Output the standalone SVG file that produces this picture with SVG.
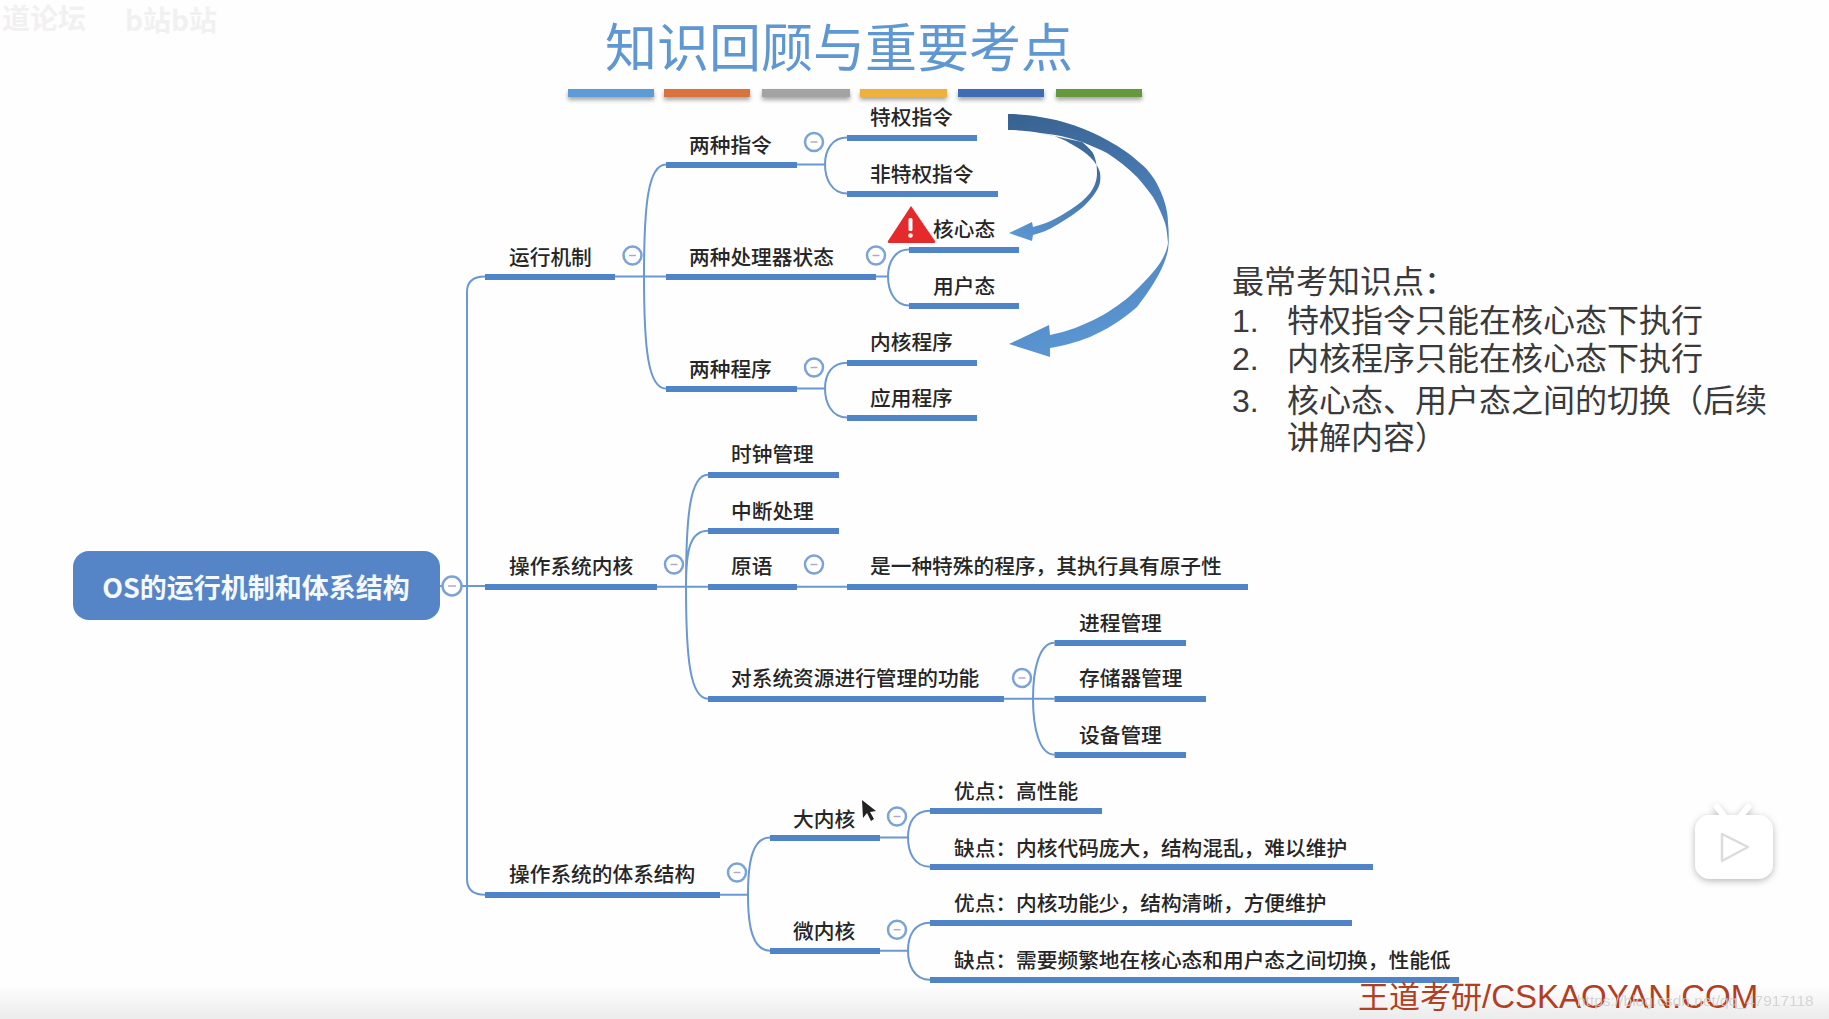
<svg xmlns="http://www.w3.org/2000/svg" width="1829" height="1019" viewBox="0 0 1829 1019">
<style>
text{font-family:"Noto Sans CJK SC","Noto Sans",sans-serif}
.t{font-size:20.7px;font-weight:500;fill:#262626}
.u{fill:#4f84c8;height:6px}
.c{fill:none;stroke:#6a98d2;stroke-width:2}
.o{fill:#fff;stroke:#7ba3d6;stroke-width:2.5}
.d{stroke:#b0a8c8;stroke-width:1.5}
.p{font-size:32px;fill:#3a3a3a}
.n{font-family:"Liberation Sans",Arial,sans-serif}
.w{font-size:28px;font-weight:700;fill:#f1f1f1}
</style>
<defs>
<linearGradient id="bottomFade" x1="0" y1="0" x2="0" y2="1"><stop offset="0" stop-color="#fefefe"/><stop offset="1" stop-color="#ebebeb"/></linearGradient>
<linearGradient id="arrowBig" gradientUnits="userSpaceOnUse" x1="1010" y1="114" x2="1080" y2="350"><stop offset="0" stop-color="#38618f"/><stop offset="0.45" stop-color="#4a7cb5"/><stop offset="1" stop-color="#5a97d3"/></linearGradient>
<linearGradient id="arrowSmall" gradientUnits="userSpaceOnUse" x1="1085" y1="143" x2="1020" y2="240"><stop offset="0" stop-color="#3d6899"/><stop offset="1" stop-color="#5a97d3"/></linearGradient>
<filter id="barShadow" x="-5%" y="-50%" width="110%" height="250%"><feDropShadow dx="0" dy="3" stdDeviation="2" flood-color="#000" flood-opacity="0.35"/></filter>
<filter id="tvShadow" x="-20%" y="-20%" width="140%" height="140%"><feDropShadow dx="0" dy="2" stdDeviation="3.500" flood-color="#000" flood-opacity="0.28"/></filter>
</defs>
<rect width="1829" height="1019" fill="#fefefe"/>
<rect y="985" width="1829" height="34" fill="url(#bottomFade)"/>
<g id="corner-watermark"><text class="w" x="2" y="29">道论坛</text><text class="w" x="125" y="31">b站b站</text></g>
<g id="title"><text x="839" y="67" text-anchor="middle" font-size="52" fill="#5f97d2">知识回顾与重要考点</text></g>
<g id="color-bars" filter="url(#barShadow)">
<rect x="568" y="89" width="86" height="8" fill="#5b9bd5"/>
<rect x="664" y="89" width="86" height="8" fill="#d9733c"/>
<rect x="762" y="89" width="88" height="8" fill="#a3a3a3"/>
<rect x="860" y="89" width="87" height="8" fill="#eeb13a"/>
<rect x="958" y="89" width="86" height="8" fill="#3f6cb4"/>
<rect x="1056" y="89" width="86" height="8" fill="#65983e"/>
</g>
<g id="connectors">
<path class="c" d="M440,586H485M467,586V292Q467,276.5 485,276.5M467,586V879Q467,894.7 485,894.7"/>
<path class="c" d="M615,276.5H666M644,276.5C644,205 648,164.5 666,164.5M644,276.5C644,348 648,388.5 666,388.5"/>
<path class="c" d="M797,164.5H825M825,164.5C825,150 832,137.6 847,137.6M825,164.5C825,179 832,193.6 847,193.6"/>
<path class="c" d="M876,276.5H888M888,276.5C888,262 895,249.6 909,249.6M888,276.5C888,291 895,305.6 909,305.6"/>
<path class="c" d="M797,388.5H825M825,388.5C825,374 832,362.8 847,362.8M825,388.5C825,403 832,417.6 847,417.6"/>
<path class="c" d="M657,586.7H708M686,586.7C686,515 690,474.7 708,474.7M686,586.7C686,550 690,530.7 708,530.7M686,586.7C686,658 690,698.7 708,698.7"/>
<path class="c" d="M797,586.7H847"/>
<path class="c" d="M1004,698.7H1054.5M1033,698.7C1033,670 1039,642.7 1054.5,642.7M1033,698.7C1033,727 1039,754.7 1054.5,754.7"/>
<path class="c" d="M720,894.7H748M748,894.7C748,860 753,837.5 770,837.5M748,894.7C748,928 753,950.7 770,950.7"/>
<path class="c" d="M880,837.5H908M908,837.5C908,823 914,810.7 930,810.7M908,837.5C908,852 914,866.7 930,866.7"/>
<path class="c" d="M880,950.7H908M908,950.7C908,936 914,922.7 930,922.7M908,950.7C908,965 914,979.8 930,979.8"/>
</g>
<g id="root"><rect x="73" y="551" width="367" height="69" rx="16" fill="#5585c6"/><text x="256" y="598" text-anchor="middle" font-size="27" font-weight="700" fill="#f5f8fc">OS的运行机制和体系结构</text><circle class="o" cx="452" cy="586" r="9.5"/><path class="d" d="M448,586H456"/></g>
<g id="n-yunxing"><rect class="u" x="485" y="274" width="130" height="6"/><text class="t" x="509" y="265">运行机制</text><circle class="o" cx="632.500" cy="255.500" r="9"/><path class="d" d="M629,255.500H636"/></g>
<g id="n-zhiling"><rect class="u" x="666" y="162" width="131" height="6"/><text class="t" x="689" y="153">两种指令</text><circle class="o" cx="814" cy="142" r="9"/><path class="d" d="M810.500,142H817.500"/></g>
<g id="n-tequan"><rect class="u" x="847" y="135" width="130" height="6"/><text class="t" x="870" y="125">特权指令</text></g>
<g id="n-feitequan"><rect class="u" x="847" y="191" width="151" height="6"/><text class="t" x="870" y="182">非特权指令</text></g>
<g id="n-zhuangtai"><rect class="u" x="666" y="274" width="210" height="6"/><text class="t" x="689" y="265">两种处理器状态</text><circle class="o" cx="876" cy="255.500" r="9"/><path class="d" d="M872.500,255.500H879.500"/></g>
<g id="n-hexin"><rect class="u" x="909" y="247" width="110" height="6"/><text class="t" x="933" y="237">核心态</text>
<path d="M911,206L935,241Q936,243 933,243H890Q887,243 888,241Z" fill="#e62a2c"/><rect x="908.500" y="218" width="4" height="13" rx="1.500" fill="#fff"/><circle cx="910.500" cy="235.500" r="2.300" fill="#fff"/></g>
<g id="n-yonghu"><rect class="u" x="909" y="303" width="110" height="6"/><text class="t" x="933" y="294">用户态</text></g>
<g id="n-chengxu"><rect class="u" x="666" y="386" width="131" height="6"/><text class="t" x="689" y="377">两种程序</text><circle class="o" cx="814" cy="367.500" r="9"/><path class="d" d="M810.500,367.500H817.500"/></g>
<g id="n-neihecx"><rect class="u" x="847" y="360" width="130" height="6"/><text class="t" x="870" y="350">内核程序</text></g>
<g id="n-yingyong"><rect class="u" x="847" y="415" width="130" height="6"/><text class="t" x="870" y="406">应用程序</text></g>
<g id="n-neihe"><rect class="u" x="485" y="584" width="172" height="6"/><text class="t" x="509" y="574">操作系统内核</text><circle class="o" cx="674" cy="564.500" r="9"/><path class="d" d="M670.500,564.500H677.500"/></g>
<g id="n-shizhong"><rect class="u" x="708" y="472" width="131" height="6"/><text class="t" x="731" y="462">时钟管理</text></g>
<g id="n-zhongduan"><rect class="u" x="708" y="528" width="131" height="6"/><text class="t" x="731" y="519">中断处理</text></g>
<g id="n-yuanyu"><rect class="u" x="708" y="584" width="89" height="6"/><text class="t" x="731" y="574">原语</text><circle class="o" cx="814" cy="564.500" r="9"/><path class="d" d="M810.500,564.500H817.500"/></g>
<g id="n-yuanzi"><rect class="u" x="847" y="584" width="401" height="6"/><text class="t" x="870" y="574">是一种特殊的程序&#xFF0C;其执行具有原子性</text></g>
<g id="n-ziyuan"><rect class="u" x="708" y="696" width="296" height="6"/><text class="t" x="731" y="686">对系统资源进行管理的功能</text><circle class="o" cx="1022" cy="678" r="9"/><path class="d" d="M1018.500,678H1025.500"/></g>
<g id="n-jincheng"><rect class="u" x="1054.500" y="640" width="131.500" height="6"/><text class="t" x="1079" y="631">进程管理</text></g>
<g id="n-cunchu"><rect class="u" x="1054.500" y="696" width="151.500" height="6"/><text class="t" x="1079" y="686">存储器管理</text></g>
<g id="n-shebei"><rect class="u" x="1054.500" y="752" width="131.500" height="6"/><text class="t" x="1079" y="743">设备管理</text></g>
<g id="n-jiegou"><rect class="u" x="485" y="892" width="235" height="6"/><text class="t" x="509" y="882">操作系统的体系结构</text><circle class="o" cx="737" cy="872.500" r="9"/><path class="d" d="M733.500,872.500H740.500"/></g>
<g id="n-da"><rect class="u" x="770" y="835" width="110" height="6"/><text class="t" x="793" y="827">大内核</text><circle class="o" cx="897" cy="816.500" r="9"/><path class="d" d="M893.500,816.500H900.500"/></g>
<g id="n-da1"><rect class="u" x="930" y="808" width="172" height="6"/><text class="t" x="954" y="799">优点&#xFF1A;高性能</text></g>
<g id="n-da2"><rect class="u" x="930" y="864" width="443" height="6"/><text class="t" x="954" y="856">缺点&#xFF1A;内核代码庞大&#xFF0C;结构混乱&#xFF0C;难以维护</text></g>
<g id="n-wei"><rect class="u" x="770" y="948" width="110" height="6"/><text class="t" x="793" y="939">微内核</text><circle class="o" cx="897" cy="929.700" r="9"/><path class="d" d="M893.500,929.700H900.500"/></g>
<g id="n-wei1"><rect class="u" x="930" y="920" width="422" height="6"/><text class="t" x="954" y="911">优点&#xFF1A;内核功能少&#xFF0C;结构清晰&#xFF0C;方便维护</text></g>
<g id="n-wei2"><rect class="u" x="930" y="977" width="529" height="6"/><text class="t" x="954" y="968">缺点&#xFF1A;需要频繁地在核心态和用户态之间切换&#xFF0C;性能低</text></g>
<g id="arrows">
<path fill="url(#arrowSmall)" d="M1040,133C1055,135 1065,140 1073,145C1080,149 1086,153 1090,157C1096,163 1099,168 1100,173C1101,180 1100,185 1097,190C1093,197 1088,202 1083,207C1076,213 1068,218 1060,223C1052,228 1045,232 1033,235L1032,241L1009,233L1032,222L1033,227C1050,223 1060,216 1070,210C1078,205 1085,199 1090,193C1095,186 1097,180 1097,173C1097,165 1096,160 1093,153C1090,149 1086,145 1082,142Z"/>
<path fill="url(#arrowBig)" d="M1008,114C1020,114 1030,115 1040,117C1062,120 1088,129 1107,140C1120,147 1130,154 1140,163C1150,171 1156,181 1160,190C1165,201 1168,212 1168,223C1169,232 1169,242 1168,250C1164,270 1150,290 1137,307C1120,322 1105,330 1090,337C1075,343 1062,346 1050,348L1050,357L1009,344L1049,325L1050,335C1085,328 1115,310 1133,293C1155,272 1166,258 1168,243C1167,235 1167,229 1165,223C1162,214 1158,206 1153,197C1148,190 1143,184 1137,177C1128,168 1118,160 1107,153C1099,149 1090,145 1082,142C1068,137 1054,134 1040,133C1030,131 1018,130 1008,130Z"/>
</g>
<g id="panel">
<text class="p" x="1232" y="293">最常考知识点&#xFF1A;</text>
<text class="p n" x="1232" y="332">1.</text><text class="p" x="1287" y="332">特权指令只能在核心态下执行</text>
<text class="p n" x="1232" y="370">2.</text><text class="p" x="1287" y="370">内核程序只能在核心态下执行</text>
<text class="p n" x="1232" y="412">3.</text><text class="p" x="1287" y="412">核心态、用户态之间的切换&#xFF08;后续</text>
<text class="p" x="1287" y="449">讲解内容&#xFF09;</text>
</g>
<g id="cursor"><path d="M862,800L863,818L867,813L871,821L874,819L870,812L876,811Z" fill="#222"/></g>
<g id="tv-icon" filter="url(#tvShadow)">
<path d="M1717,807L1725,817M1748,807L1740,817" stroke="#fff" stroke-width="6" stroke-linecap="round"/>
<rect x="1695" y="815" width="78" height="64" rx="15" fill="#fff"/>
<path d="M1722,834L1748,847L1722,861Z" fill="#fff" stroke="#dcdcdc" stroke-width="2.500" stroke-linejoin="round"/>
</g>
<g id="watermark">
<text x="1358" y="1008" font-size="31" fill="#b23f22">王道考研<tspan font-family="Liberation Sans,Arial,sans-serif" font-size="33">/CSKAOYAN.COM</tspan></text>
<text class="n" x="1577" y="1006" font-size="15.500" fill="#cfcfcf" opacity="0.85">https://blog.csdn.net/qq_47917118</text>
</g>
</svg>
